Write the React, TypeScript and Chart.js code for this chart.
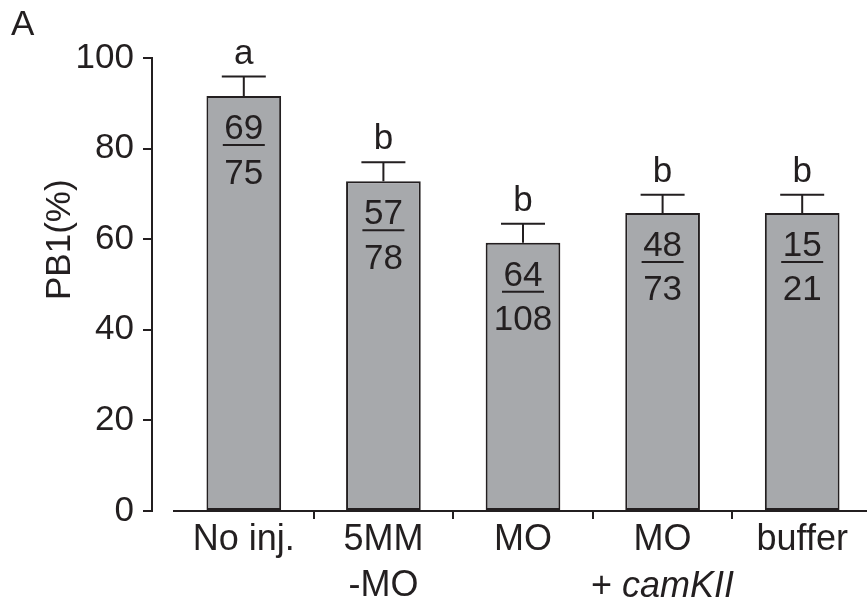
import React, { useEffect, useRef } from 'react';
import { Chart, registerables } from 'chart.js';

Chart.register(...registerables);

// ---- data ----
const categories = ['No inj.', '5MM\n-MO', 'MO', 'MO\n+ camKII', 'buffer'];
const italicWord = 'camKII';
const means = [91.6, 72.8, 59.2, 65.8, 65.8];
const errors = [4.3, 4.2, 4.2, 4.0, 4.0];
const numerators = [69, 57, 64, 48, 15];
const denominators = [75, 78, 108, 73, 21];
const letters = ['a', 'b', 'b', 'b', 'b'];
const yMin = 0;
const yMax = 100;
const yStep = 20;
const yTitle = 'PB1(%)';
const panelLabel = 'A';

const INK = '#231f20';
const FILL = '#a7a9ac';
const FONT = '"Liberation Sans", Arial, Helvetica, sans-serif';

const annotations = {
  id: 'annotations',
  afterDatasetsDraw(chart: any) {
    const ctx = chart.ctx;
    const ys = chart.scales.y;
    const xs = chart.scales.x;
    const meta = chart.getDatasetMeta(0);
    ctx.save();
    ctx.fillStyle = INK;
    ctx.strokeStyle = INK;
    ctx.lineWidth = 2;
    meta.data.forEach((bar: any, i: number) => {
      const cx = bar.x;
      const top = ys.getPixelForValue(means[i]);
      const cap = ys.getPixelForValue(means[i] + errors[i]);
      // error bar
      ctx.beginPath();
      ctx.moveTo(cx, top);
      ctx.lineTo(cx, cap);
      ctx.moveTo(cx - 22, cap);
      ctx.lineTo(cx + 22, cap);
      ctx.stroke();
      // significance letter
      ctx.font = `35px ${FONT}`;
      ctx.textAlign = 'center';
      ctx.textBaseline = 'alphabetic';
      ctx.fillText(letters[i], cx, cap - 13);
      // fraction
      ctx.fillText(String(numerators[i]), cx, top + 43);
      ctx.beginPath();
      ctx.moveTo(cx - 21, top + 49);
      ctx.lineTo(cx + 21, top + 49);
      ctx.stroke();
      ctx.fillText(String(denominators[i]), cx, top + 87.5);
    });

    // mixed-style second lines of category labels
    categories.forEach((lab, i) => {
      const lines = lab.split('\n');
      lines.forEach((line, li) => {
        const k = line.indexOf(italicWord);
        if (k < 0) return;
        const pre = line.slice(0, k);
        ctx.font = `36px ${FONT}`;
        const wPre = ctx.measureText(pre).width;
        ctx.font = `italic 36px ${FONT}`;
        const wIt = ctx.measureText(italicWord).width;
        const cx = xs.getPixelForTick(i);
        const x0 = cx - (wPre + wIt) / 2;
        const base = xs.top + 40 + li * 46;
        ctx.textAlign = 'left';
        ctx.textBaseline = 'alphabetic';
        ctx.font = `36px ${FONT}`;
        ctx.fillText(pre, x0, base);
        ctx.font = `italic 36px ${FONT}`;
        ctx.fillText(italicWord, x0 + wPre, base);
      });
    });

    // y-axis title
    ctx.save();
    ctx.font = `35px ${FONT}`;
    ctx.textAlign = 'left';
    ctx.textBaseline = 'alphabetic';
    ctx.translate(70, 300);
    ctx.rotate(-Math.PI / 2);
    ctx.fillText(yTitle, 0, 0);
    ctx.restore();

    // panel label
    ctx.font = `35px ${FONT}`;
    ctx.textAlign = 'left';
    ctx.textBaseline = 'alphabetic';
    ctx.fillText(panelLabel, 11, 35);
    ctx.restore();
  },
};

export default function App() {
  const ref = useRef<HTMLCanvasElement>(null);
  useEffect(() => {
    if (!ref.current) return;
    const chart = new Chart(ref.current, {
      type: 'bar',
      data: {
        labels: categories,
        datasets: [
          {
            data: means,
            backgroundColor: FILL,
            borderColor: INK,
            borderWidth: 2,
            borderSkipped: false,
            categoryPercentage: 1,
            barPercentage: 0.535,
          },
        ],
      },
      options: {
        animation: false,
        responsive: false,
        devicePixelRatio: 1,
        layout: { padding: { left: 0, right: 8, top: 58, bottom: 0 } },
        plugins: { legend: { display: false }, tooltip: { enabled: false } },
        scales: {
          x: {
            type: 'category',
            offset: true,
            grid: {
              display: true,
              offset: true,
              drawOnChartArea: false,
              drawTicks: true,
              tickLength: 8,
              lineWidth: 2,
              color: (c: any) => (c.index === 0 || c.index === categories.length ? 'rgba(0,0,0,0)' : INK),
            },
            border: { display: true, width: 2, color: INK },
            ticks: {
              color: INK,
              font: { family: FONT, size: 36, lineHeight: 1.28 },
              padding: -2,
              maxRotation: 0,
              autoSkip: false,
              callback: (_v: any, i: number) =>
                categories[i].split('\n').map((l) => (l.includes(italicWord) ? '' : l)),
            },
            afterFit: (s: any) => {
              s.height = 91;
            },
          },
          y: {
            type: 'linear',
            position: 'left',
            weight: 1,
            min: yMin,
            max: yMax,
            grid: {
              display: true,
              drawOnChartArea: false,
              drawTicks: true,
              tickLength: 9,
              lineWidth: 2,
              color: INK,
            },
            border: { display: true, width: 2, color: INK },
            ticks: {
              stepSize: yStep,
              color: INK,
              padding: 9,
              font: { family: FONT, size: 35 },
            },
            afterFit: (s: any) => {
              s.width = 152;
            },
          },
          gap: {
            type: 'linear',
            position: 'left',
            weight: 0,
            display: true,
            grid: { display: false },
            border: { display: false },
            ticks: { display: false },
            afterFit: (s: any) => {
              s.width = 22;
            },
          },
        },
      } as any,
      plugins: [annotations],
    });
    return () => chart.destroy();
  }, []);

  return (
    <div
      style={{
        position: 'fixed',
        left: 0,
        top: 0,
        width: 867,
        height: 602,
        overflow: 'hidden',
        background: '#fff',
      }}
    >
      <canvas ref={ref} width={880} height={602} style={{ display: 'block', width: 880, height: 602 }} />
    </div>
  );
}
